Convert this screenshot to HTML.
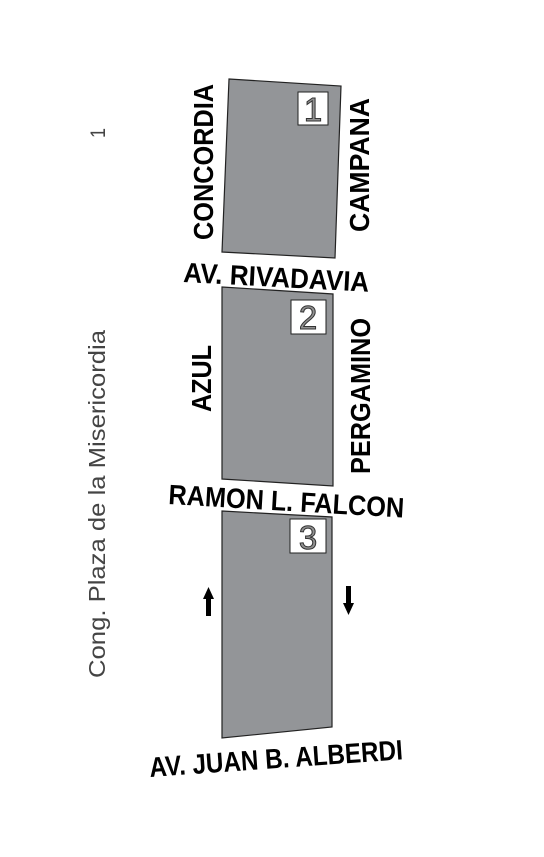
<!DOCTYPE html>
<html><head><meta charset="utf-8"><style>
html,body{margin:0;padding:0;background:#fff;width:544px;height:857px;overflow:hidden}
svg{display:block}
.st{font-family:"Liberation Sans",sans-serif;font-weight:bold;font-size:28px;fill:#000}
.num{font-family:"Liberation Sans",sans-serif;font-size:33px;fill:#909090;stroke:#333;stroke-width:1}
</style></head><body>
<svg width="544" height="857" viewBox="0 0 544 857">
<text transform="translate(105,138) rotate(-90)" font-family="Liberation Sans,sans-serif" font-size="21" fill="#444" textLength="10" lengthAdjust="spacingAndGlyphs">1</text>
<text transform="translate(105,678) rotate(-90)" font-family="Liberation Sans,sans-serif" font-size="23" fill="#444" textLength="348" lengthAdjust="spacingAndGlyphs">Cong. Plaza de la Misericordia</text>

<polygon points="229,79 341,86 335,258 222,252" fill="#939598" stroke="#222" stroke-width="1.2"/>
<polygon points="222,287 333,294 333,486 222,479" fill="#939598" stroke="#222" stroke-width="1.2"/>
<polygon points="222,511 332,517 332,727 222,738" fill="#939598" stroke="#222" stroke-width="1.2"/>

<rect x="298" y="92" width="30" height="33" fill="#fff" stroke="#222"/>
<text class="num" x="313" y="121" text-anchor="middle">1</text>
<rect x="291" y="300" width="35" height="34" fill="#fff" stroke="#222"/>
<text class="num" x="308" y="329" text-anchor="middle">2</text>
<rect x="290" y="519" width="36" height="34" fill="#fff" stroke="#222"/>
<text class="num" x="308" y="549" text-anchor="middle">3</text>

<text class="st" transform="translate(213,240) rotate(-90)" textLength="156" lengthAdjust="spacingAndGlyphs">CONCORDIA</text>
<text class="st" transform="translate(369,232) rotate(-90)" textLength="134" lengthAdjust="spacingAndGlyphs">CAMPANA</text>
<text class="st" transform="translate(183,282) rotate(3)" textLength="186" lengthAdjust="spacingAndGlyphs">AV. RIVADAVIA</text>
<text class="st" transform="translate(211,412) rotate(-90)" textLength="67" lengthAdjust="spacingAndGlyphs">AZUL</text>
<text class="st" transform="translate(370,474) rotate(-90)" textLength="156" lengthAdjust="spacingAndGlyphs">PERGAMINO</text>
<text class="st" transform="translate(168,504) rotate(3.3)" textLength="236" lengthAdjust="spacingAndGlyphs">RAMON L. FALCON</text>
<text class="st" transform="translate(150,777) rotate(-4)" textLength="254" lengthAdjust="spacingAndGlyphs">AV. JUAN B. ALBERDI</text>

<g>
<rect x="206" y="598" width="5" height="18" fill="#000"/>
<polygon points="203,599 208.5,587 214,599" fill="#000"/>
</g>
<g>
<rect x="346" y="586" width="5" height="18" fill="#000"/>
<polygon points="343,603 348.5,615 354,603" fill="#000"/>
</g>
</svg>
</body></html>
